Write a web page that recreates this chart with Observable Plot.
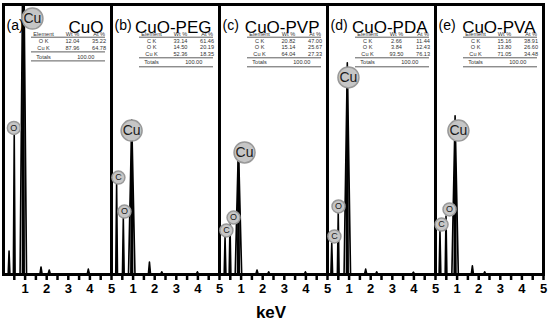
<!DOCTYPE html>
<html>
<head>
<meta charset="utf-8">
<script src="https://cdn.jsdelivr.net/npm/d3@7"></script>
<script src="https://cdn.jsdelivr.net/npm/@observablehq/plot@0.6"></script>
<style>
  html, body { margin: 0; padding: 0; background: #fff; }
  #chart { position: relative; width: 550px; height: 323px; }
</style>
</head>
<body>
<div id="chart"></div>
<script>
// ---- data ----
const panelIds   = ["(a)", "(b)", "(c)", "(d)", "(e)"];
const panelNames = ["CuO", "CuO-PEG", "CuO-PVP", "CuO-PDA", "CuO-PVA"];
const tickLabels = [1, 2, 3, 4, 5];
const minorTicks = [0.5, 1, 1.5, 2, 2.5, 3, 3.5, 4, 4.5, 5];

// peak centres (keV) and peak heights (counts, 0-100 of the panel height)
const cKeV      = [0.28, 0.26, 0.28, 0.22, 0.23];
const cCounts   = [8.5, 33.3, 13.7, 11.5, 16.0];
const oKeV      = [0.52, 0.57, 0.51, 0.52, 0.51];
const oCounts   = [52.0, 20.7, 18.5, 22.6, 21.5];
const cuKeV     = [0.94, 0.96, 0.90, 0.94, 0.93];
const cuCounts  = [120, 49.6, 41.5, 68.9, 49.3];
const cuBase    = [17.0, 7.4, 6.3, 9.3, 9.3];
const minorKeV    = [[1.76, 2.14, 3.95], [1.78, 2.35, 4.0], [1.76, 2.3, 4.0], [1.79, 2.3, 4.0], [1.73, 2.3]];
const minorCounts = [[2.6, 1.5, 1.8],    [4.4, 0.8, 0.8],   [1.5, 0.8, 0.8],  [1.8, 0.8, 0.7],  [3.0, 0.8]];

// element labels (circle centres in keV / counts)
const labelText   = [["Cu", "O"], ["C", "O", "Cu"], ["C", "O", "Cu"], ["C", "O", "Cu"], ["C", "O", "Cu"]];
const labelKeV    = [[1.34, 0.48], [0.32, 0.60, 0.93], [0.32, 0.65, 1.16], [0.32, 0.51, 0.97], [0.28, 0.65, 1.06]];
const labelCounts = [[94.8, 54.3], [35.9, 23.3, 53.3], [16.3, 21.1, 45.2], [14.1, 25.2, 73.0], [18.5, 24.1, 53.3]];

// composition tables
const tableElements = [["O K", "Cu K"], ["C K", "O K", "Cu K"], ["C K", "O K", "Cu K"], ["C K", "O K", "Cu K"], ["C K", "O K", "Cu K"]];
const tableWt = [["12.04", "87.96"], ["33.14", "14.50", "52.36"], ["20.82", "15.14", "64.04"], ["2.66", "3.84", "93.50"], ["15.16", "13.80", "71.05"]];
const tableAt = [["35.22", "64.78"], ["61.46", "20.19", "18.35"], ["47.00", "25.67", "27.33"], ["11.44", "12.43", "76.13"], ["38.91", "26.60", "34.48"]];
const tableTotal = "100.00";

// ---- build tables for the library ----
const spectra = [];
panelIds.forEach((p, i) => {
  const peaks = [
    [cKeV[i], cCounts[i], 0.04],
    [oKeV[i], oCounts[i], 0.04],
    [cuKeV[i], cuCounts[i], 0.04],
    [cuKeV[i], cuBase[i], 0.15]
  ];
  minorKeV[i].forEach((e, j) => peaks.push([e, minorCounts[i][j], 0.05]));
  peaks.forEach(([e, h, w], j) => {
    const id = p + "-" + j;
    spectra.push({panel: p, id, keV: e - w, counts: 0});
    spectra.push({panel: p, id, keV: e, counts: h});
    spectra.push({panel: p, id, keV: e + w, counts: 0});
  });
});
const labels = [];
panelIds.forEach((p, i) => labelText[i].forEach((t, j) =>
  labels.push({panel: p, text: t, keV: labelKeV[i][j], counts: labelCounts[i][j]})));
const titles = panelIds.map((p, i) => ({panel: p, id: p, name: panelNames[i]}));

const font = "Liberation Sans, Arial, sans-serif";
const big = labels.filter(d => d.text === "Cu");
const small = labels.filter(d => d.text !== "Cu");

const chart = Plot.plot({
  width: 550,
  height: 323,
  marginLeft: 3,
  marginRight: 7,
  marginTop: 4,
  marginBottom: 49,
  style: {fontFamily: font, background: "white", color: "black"},
  fx: {domain: panelIds, axis: null, padding: 0},
  x: {domain: [0, 5], label: null},
  y: {domain: [0, 100], axis: null},
  marks: [
    Plot.areaY(spectra, {x: "keV", y: "counts", z: "id", fx: "panel", fill: "black", stroke: "black", strokeWidth: 1.6, clip: true}),
    Plot.frame({stroke: "black", strokeWidth: 3}),
    Plot.axisX({ticks: minorTicks, tickSize: 6, tickFormat: () => "", strokeWidth: 2.5, label: null}),
    Plot.text(tickLabels, {x: d => d, text: d => String(d), frameAnchor: "bottom", dy: 18.5, fontSize: 13, fontWeight: "bold", fill: "black"}),
    Plot.dot(big, {x: "keV", y: "counts", fx: "panel", r: 10.5, fill: "#c6c6c6", stroke: "#999", strokeWidth: 1.5}),
    Plot.dot(small, {x: "keV", y: "counts", fx: "panel", r: 6.5, fill: "#c6c6c6", stroke: "#999", strokeWidth: 1.5}),
    Plot.text(big, {x: "keV", y: "counts", fx: "panel", text: "text", fontSize: 14, fill: "#1a1a1a"}),
    Plot.text(small, {x: "keV", y: "counts", fx: "panel", text: "text", fontSize: 9, fill: "#1a1a1a"}),
    Plot.text(titles, {fx: "panel", text: "id", frameAnchor: "top-left", textAnchor: "start", dx: 3, dy: 15.5, fontSize: 14, fill: "black"}),
    Plot.text(titles, {fx: "panel", text: "name", frameAnchor: "top-right", textAnchor: "end", dx: -8, dy: 16, fontSize: 17, fill: "black"})
  ]
});
document.getElementById("chart").appendChild(chart);

const svg = d3.select(chart);

// axis title
svg.append("text").attr("x", 271).attr("y", 318).attr("text-anchor", "middle")
  .attr("font-family", font).attr("font-size", 17).attr("font-weight", "bold").attr("fill", "black").text("keV");

// composition tables
const fx = chart.scale("fx");
panelIds.forEach((p, i) => {
  const left = fx.apply(p) + 28, w = 74;
  const cE = left + w * 0.17, cW = left + w * 0.56, cA = left + w * 0.92, cT = left + w * 0.74;
  const g = svg.append("g");
  const txt = (x, y, s) => g.append("text").attr("x", x).attr("y", y)
    .attr("font-family", font).attr("font-size", "5.6px").style("font-size", "5.6px")
    .attr("fill", "#333").attr("text-anchor", "middle").text(s);
  const line = y => g.append("line").attr("x1", left).attr("x2", left + w).attr("y1", y).attr("y2", y).attr("stroke", "#333").attr("stroke-width", 0.8);
  const row = (y, a, b, c) => { txt(cE, y, a); txt(cW, y, b); txt(cA, y, c); };
  row(35.6, "Element", "Wt %", "At %");
  line(37.2);
  const n = tableElements[i].length;
  const step = n === 2 ? 7.3 : 6.6;
  tableElements[i].forEach((el, j) => row(42.6 + j * step, el, tableWt[i][j], tableAt[i][j]));
  const yl = 42.6 + (n - 1) * step + 2;
  line(yl);
  txt(cE, yl + 6.6, "Totals");
  txt(cT, yl + 6.6, tableTotal);
  line(yl + 9);
});
</script>
</body>
</html>
